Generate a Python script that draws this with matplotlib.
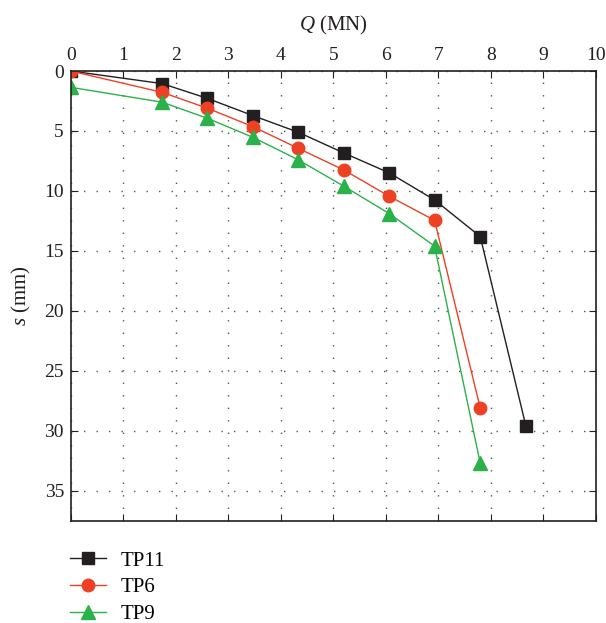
import matplotlib
matplotlib.use('Agg')
import matplotlib.pyplot as plt

plt.rcParams['font.family'] = 'Liberation Serif'
plt.rcParams['mathtext.fontset'] = 'custom'
plt.rcParams['mathtext.rm'] = 'Liberation Serif'
plt.rcParams['mathtext.it'] = 'Liberation Serif:italic'

# load Q (MN) and settlement s (mm)
q_tp11 = [0, 1.74, 2.6, 3.47, 4.33, 5.2, 6.07, 6.93, 7.8, 8.67]
s_tp11 = [0, 1.05, 2.28, 3.72, 5.1, 6.83, 8.5, 10.75, 13.8, 29.6]

q_tp6 = [0, 1.74, 2.6, 3.47, 4.33, 5.2, 6.07, 6.93, 7.8]
s_tp6 = [0, 1.78, 3.1, 4.64, 6.44, 8.25, 10.45, 12.45, 28.1]

q_tp9 = [0, 1.74, 2.6, 3.47, 4.33, 5.2, 6.07, 6.93, 7.8]
s_tp9 = [1.36, 2.6, 3.94, 5.53, 7.4, 9.6, 11.9, 14.6, 32.7]

fig = plt.figure(figsize=(6.06, 6.23), dpi=100)
ax = fig.add_axes([0.117, 0.164, 0.866, 0.722])

l1, = ax.plot(q_tp11, s_tp11, color='#231f20', marker='s', markersize=8, linewidth=1.0, label='TP11')
l2, = ax.plot(q_tp6, s_tp6, color='#ee4023', marker='o', markersize=9, linewidth=1.0, label='TP6')
l3, = ax.plot(q_tp9, s_tp9, color='#2bb14a', marker='^', markersize=10, linewidth=1.0, label='TP9')

ax.set_xlim(0, 10)
ax.set_ylim(37.5, 0)
ax.set_xticks(range(0, 11))
ax.set_yticks(range(0, 36, 5))
ax.xaxis.tick_top()
ax.xaxis.set_label_position('top')
ax.tick_params(direction='in', top=True, bottom=True, left=True, right=True,
               labelsize=14, length=5, colors='#231f20', pad=5)
ax.set_xlabel(r'$Q$ (MN)', fontsize=15, labelpad=12, color='#231f20')
ax.set_ylabel(r'$s$ (mm)', fontsize=15, labelpad=8, color='#231f20')

ax.grid(True, color='#555555', linestyle=(0, (1, 8)), linewidth=1.0)
for sp in ax.spines.values():
    sp.set_linewidth(1.2)
    sp.set_color('#231f20')

fig.legend(handles=[l1, l2, l3], loc='upper left', bbox_to_anchor=(0.102, 0.129),
           frameon=False, fontsize=15, handlelength=1.7, handletextpad=0.7,
           labelspacing=0.35, borderaxespad=0)

fig.savefig('out.png', dpi=100)
plt.close()
